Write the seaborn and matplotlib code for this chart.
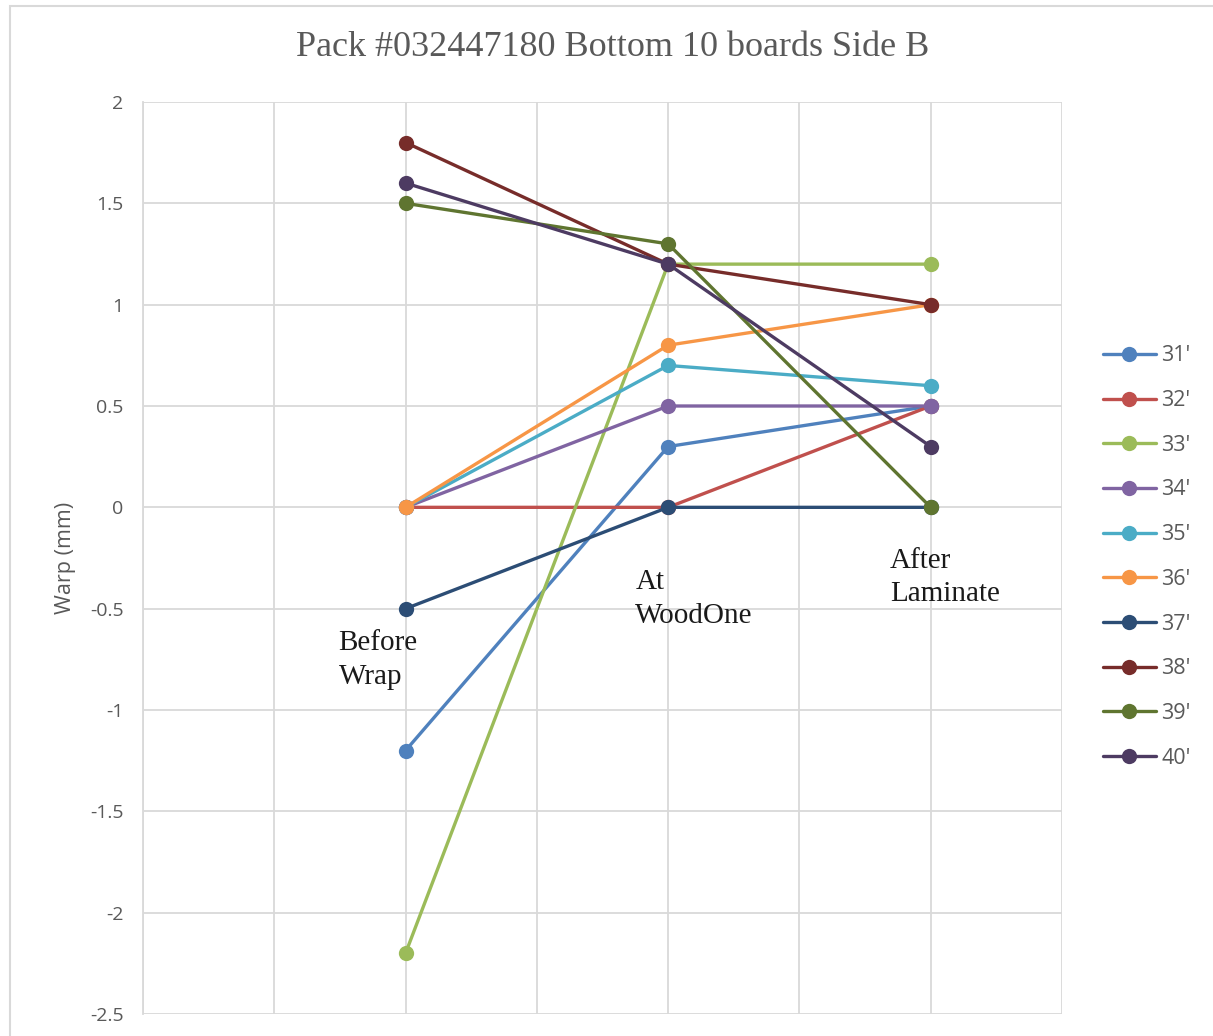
import matplotlib
matplotlib.use("Agg")
import matplotlib.pyplot as plt
from matplotlib.patches import Rectangle
import numpy as np
import pandas as pd
import seaborn as sns

# Warp measurements (mm) per board, at three stages
stages = ["Before Wrap", "At WoodOne", "After Laminate"]
stage_x = [2, 4, 6]
boards = ["31'", "32'", "33'", "34'", "35'", "36'", "37'", "38'", "39'", "40'"]
warp_31 = [-1.2, 0.3, 0.5]
warp_32 = [0.0, 0.0, 0.5]
warp_33 = [-2.2, 1.2, 1.2]
warp_34 = [0.0, 0.5, 0.5]
warp_35 = [0.0, 0.7, 0.6]
warp_36 = [0.0, 0.8, 1.0]
warp_37 = [-0.5, 0.0, 0.0]
warp_38 = [1.8, 1.2, 1.0]
warp_39 = [1.5, 1.3, 0.0]
warp_40 = [1.6, 1.2, 0.3]
series = [warp_31, warp_32, warp_33, warp_34, warp_35,
          warp_36, warp_37, warp_38, warp_39, warp_40]
colors = ["#4F81BD", "#C0504D", "#9BBB59", "#8064A2", "#4BACC6",
          "#F79646", "#2C4D75", "#772C2A", "#5F7530", "#4D3B62"]

rows = []
for b, vals in zip(boards, series):
    for sx, v in zip(stage_x, vals):
        rows.append({"board": b, "x": sx, "warp": v})
df = pd.DataFrame(rows)

sns.set_theme(style="white")
plt.rcParams["font.family"] = ["Open Sans", "DejaVu Sans"]
plt.rcParams["axes.unicode_minus"] = False

W, H = 1213, 1036
fig = plt.figure(figsize=(W / 100, H / 100), dpi=100)
fig.patch.set_facecolor("white")
fig.patches.append(Rectangle((10 / W, -0.1), 1.2, 1 - 6 / H + 0.1,
                             transform=fig.transFigure, fill=False,
                             edgecolor="#D9D9D9", linewidth=1.5))

ax = fig.add_axes([143 / W, 1 - 1014 / H, (1062 - 143) / W, (1014 - 102) / H])
sns.lineplot(data=df, x="x", y="warp", hue="board", hue_order=boards,
             palette=colors, marker="o", markersize=11, markeredgewidth=0,
             linewidth=2.4, ax=ax, legend=True, zorder=3)

ax.set_xlim(0, 7)
ax.set_ylim(-2.5, 2)
ax.set_xticks(np.arange(0, 8, 1))
ax.set_xticklabels([])
yt = np.arange(-2.5, 2.01, 0.5)
ax.set_yticks(yt)
ax.set_yticklabels([("%g" % v) for v in yt])
ax.tick_params(axis="y", length=0, pad=14, labelsize=14, labelcolor="#595959")
ax.tick_params(axis="x", length=0)
ax.grid(True, color="#D9D9D9", linewidth=1.3)
ax.set_axisbelow(True)
for s in ["top", "right", "bottom"]:
    ax.spines[s].set_visible(False)
ax.spines["left"].set_color("#D9D9D9")
ax.spines["left"].set_linewidth(1.3)
ax.set_xlabel("")
ax.set_ylabel("Warp (mm)", fontsize=15.5, color="#595959", labelpad=10)

# Stage annotations inside the plot area
serif = ["Liberation Serif", "DejaVu Serif"]
ann_pos = [(1.49, -0.605), (3.75, -0.305), (5.69, -0.2)]
ann_txt = ["Before\nWrap", "At\nWoodOne", "After\nLaminate"]
for (tx, ty), t in zip(ann_pos, ann_txt):
    ax.text(tx, ty, t, family=serif, fontsize=21, color="#1A1A1A",
            va="top", ha="left", linespacing=1.38)

fig.text(613 / W, 1 - 48 / H, "Pack #032447180 Bottom 10 boards Side B",
         family=serif, fontsize=26, color="#595959", ha="center", va="center")

handles, labels = ax.get_legend_handles_labels()
leg = ax.legend(handles, labels, loc="center left",
                bbox_to_anchor=(1103 / W, 1 - 557 / H),
                bbox_transform=fig.transFigure, frameon=False,
                fontsize=15.5, labelspacing=1.1, handlelength=2.45,
                handletextpad=0.25, borderaxespad=0, borderpad=0)
for t in leg.get_texts():
    t.set_color("#595959")

fig.savefig("out.png", dpi=100, facecolor="white")
